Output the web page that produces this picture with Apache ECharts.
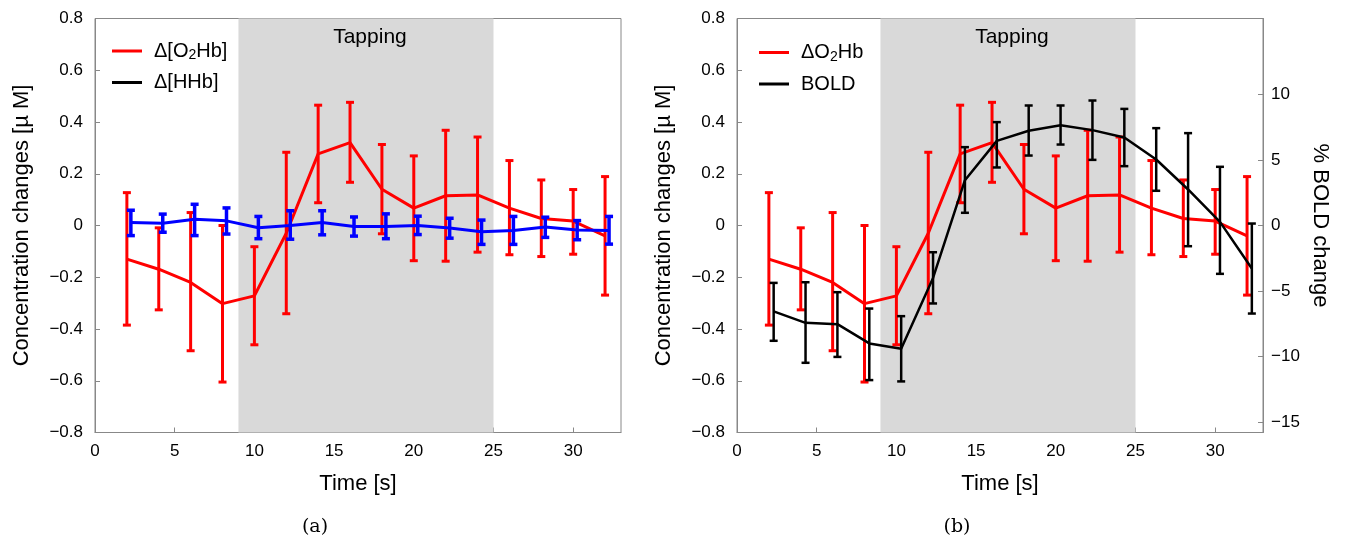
<!DOCTYPE html>
<html><head><meta charset="utf-8">
<script src="https://cdn.jsdelivr.net/npm/echarts@6/dist/echarts.min.js"></script>
<style>html,body{margin:0;padding:0;background:#fff}#c{width:1345px;height:540px}</style>
</head><body><div id="c"></div>
<script>
// ---- data ----
const timeO2 = [2,4,6,8,10,12,14,16,18,20,22,24,26,28,30,32];
const o2hb     = [-0.13,-0.169,-0.22,-0.302,-0.272,-0.03,0.277,0.32,0.14,0.067,0.115,0.118,0.067,0.027,0.017,-0.04];
const o2hbLow  = [-0.385,-0.326,-0.484,-0.605,-0.461,-0.341,0.088,0.167,-0.032,-0.136,-0.138,-0.103,-0.113,-0.12,-0.111,-0.269];
const o2hbHigh = [0.127,-0.009,0.05,0.0,-0.082,0.283,0.465,0.476,0.313,0.269,0.368,0.342,0.251,0.176,0.139,0.189];

const timeHHb = [2.25,4.25,6.25,8.25,10.25,12.25,14.25,16.25,18.25,20.25,22.25,24.25,26.25,28.25,30.25,32.25];
const hhb     = [0.012,0.009,0.024,0.018,-0.009,0.0,0.012,-0.004,-0.004,0.0,-0.01,-0.024,-0.019,-0.006,-0.017,-0.019];
const hhbLow  = [-0.039,-0.026,-0.039,-0.033,-0.051,-0.053,-0.036,-0.041,-0.051,-0.035,-0.049,-0.073,-0.073,-0.046,-0.055,-0.072];
const hhbHigh = [0.059,0.044,0.082,0.068,0.035,0.057,0.057,0.033,0.045,0.036,0.028,0.021,0.035,0.032,0.019,0.035];

const timeBold = [2.3,4.3,6.3,8.3,10.3,12.3,14.3,16.3,18.3,20.3,22.3,24.3,26.3,28.3,30.3,32.3];
const bold     = [-6.56,-7.43,-7.53,-9.0,-9.41,-4.0,3.46,6.46,7.23,7.66,7.28,6.72,5.04,2.75,0.28,-3.28];
const boldLow  = [-8.8,-10.48,-10.03,-11.8,-11.9,-5.95,0.97,4.43,5.34,6.18,5.01,4.53,2.65,-1.58,-3.69,-6.72];
const boldHigh = [-4.38,-4.33,-5.09,-6.34,-6.92,-2.04,5.98,7.89,9.16,9.16,9.54,8.9,7.43,7.05,4.48,0.15];

const xTicks = [0,5,10,15,20,25,30];
const boldTicks = [-15,-10,-5,0,5,10];
const tapping = [9, 25];

// ---- helpers ----
const FONT = '"Liberation Sans", Arial, sans-serif';
const AX = '#888';
const pairs = (xs, ys) => xs.map((x, i) => [x, ys[i]]);
const triples = (xs, lo, hi) => xs.map((x, i) => [x, lo[i], hi[i]]);
const minus = s => String(s).replace('-', '\u2212');

function errRender(color, lw) {
  return function (params, api) {
    const x = api.value(0);
    const p1 = api.coord([x, api.value(1)]);
    const p2 = api.coord([x, api.value(2)]);
    const w = 4;
    const st = { stroke: color, lineWidth: lw };
    return { type: 'group', children: [
      { type: 'line', shape: { x1: p1[0], y1: p1[1], x2: p2[0], y2: p2[1] }, style: st },
      { type: 'line', shape: { x1: p1[0] - w, y1: p1[1], x2: p1[0] + w, y2: p1[1] }, style: st },
      { type: 'line', shape: { x1: p2[0] - w, y1: p2[1], x2: p2[0] + w, y2: p2[1] }, style: st }
    ]};
  };
}

function xAxis(gi) {
  return {
    type: 'value', gridIndex: gi, min: 0, max: 33, interval: 5,
    axisLine: { show: true, onZero: false, lineStyle: { color: AX, width: 1 } },
    axisTick: { show: true, inside: true, length: 5, customValues: xTicks, lineStyle: { color: AX } },
    axisLabel: { customValues: xTicks, margin: 10, color: '#000', fontSize: 17, fontFamily: FONT },
    splitLine: { show: false },
    name: 'Time [s]', nameLocation: 'middle', nameGap: 40,
    nameTextStyle: { color: '#000', fontSize: 22, fontFamily: FONT }
  };
}
function yConc(gi) {
  return {
    type: 'value', gridIndex: gi, min: -0.8, max: 0.8, interval: 0.2,
    axisLine: { show: true, onZero: false, lineStyle: { color: AX, width: 1 } },
    axisTick: { show: true, inside: true, length: 5, lineStyle: { color: AX } },
    axisLabel: { margin: 12, color: '#000', fontSize: 17, fontFamily: FONT,
      formatter: v => minus(Math.round(v * 10) / 10) },
    splitLine: { show: false },
    name: 'Concentration changes [\u00b5 M]', nameLocation: 'middle', nameRotate: 90, nameGap: 62,
    nameTextStyle: { color: '#000', fontSize: 22, fontFamily: FONT }
  };
}

const legendRich = {
  n: { fontSize: 20, lineHeight: 24, fontFamily: FONT, color: '#000' },
  s: { fontSize: 14, lineHeight: 14, padding: [9, 0, 0, 0], fontFamily: FONT, color: '#000' }
};
function legendFmt(name) {
  if (name === '\u0394[O\u2082Hb]') return '{n|\u0394[O}{s|2}{n|Hb]}';
  if (name === '\u0394O\u2082Hb') return '{n|\u0394O}{s|2}{n|Hb}';
  return '{n|' + name + '}';
}
function legend(left, top, data) {
  return {
    left: left, top: top, orient: 'vertical', padding: 0, icon: 'rect',
    itemWidth: 30, itemHeight: 3, itemGap: 7.5, selectedMode: false,
    data: data, formatter: legendFmt,
    textStyle: { fontSize: 20, lineHeight: 24, fontFamily: FONT, color: '#000', padding: [0, 0, 0, 7], rich: legendRich }
  };
}

const tapArea = {
  silent: true,
  itemStyle: { color: '#d9d9d9' },
  label: { show: true, position: 'insideTop', distance: 8, offset: [4, 0], color: '#000', fontSize: 21, fontFamily: FONT },
  data: [[{ name: 'Tapping', xAxis: tapping[0] }, { xAxis: tapping[1] }]]
};

const option = {
  animation: false,
  backgroundColor: '#fff',
  grid: [
    { left: 95, top: 18.5, width: 526, height: 414, show: true, borderColor: AX, borderWidth: 1, backgroundColor: 'transparent' },
    { left: 737, top: 18.5, width: 526, height: 414, show: true, borderColor: AX, borderWidth: 1, backgroundColor: 'transparent' }
  ],
  xAxis: [xAxis(0), xAxis(1)],
  yAxis: [
    yConc(0), yConc(1),
    {
      type: 'value', gridIndex: 1, position: 'right', min: -15.8, max: 15.8,
      axisLine: { show: true, onZero: false, lineStyle: { color: AX, width: 1 } },
      axisTick: { show: true, inside: true, length: 5, customValues: boldTicks, lineStyle: { color: AX } },
      axisLabel: { customValues: boldTicks, margin: 8, color: '#000', fontSize: 17, fontFamily: FONT, formatter: v => minus(v) },
      splitLine: { show: false },
      name: '% BOLD change', nameLocation: 'middle', nameRotate: -90, nameGap: 46,
      nameTextStyle: { color: '#000', fontSize: 22, fontFamily: FONT }
    }
  ],
  legend: [
    legend(112, 39, [{ name: '\u0394[O\u2082Hb]' }, { name: '\u0394[HHb]', itemStyle: { color: '#000' } }]),
    legend(759, 40.5, [{ name: '\u0394O\u2082Hb' }, { name: 'BOLD' }])
  ],
  graphic: [
    { type: 'text', x: 315, y: 527, style: { text: '(a)', font: '19px "DejaVu Serif", serif', fill: '#000', align: 'center', verticalAlign: 'middle' } },
    { type: 'text', x: 957, y: 527, style: { text: '(b)', font: '19px "DejaVu Serif", serif', fill: '#000', align: 'center', verticalAlign: 'middle' } }
  ],
  series: [
    // panel (a)
    { name: '\u0394[O\u2082Hb]', type: 'line', xAxisIndex: 0, yAxisIndex: 0, data: pairs(timeO2, o2hb),
      symbol: 'none', color: '#ff0000', lineStyle: { color: '#ff0000', width: 3 }, markArea: tapArea, z: 3 },
    { type: 'custom', xAxisIndex: 0, yAxisIndex: 0, data: triples(timeO2, o2hbLow, o2hbHigh),
      encode: { x: 0, y: [1, 2] }, renderItem: errRender('#ff0000', 3), z: 3 },
    { name: '\u0394[HHb]', type: 'line', xAxisIndex: 0, yAxisIndex: 0, data: pairs(timeHHb, hhb),
      symbol: 'none', color: '#0000ff', lineStyle: { color: '#0000ff', width: 3 }, z: 4 },
    { type: 'custom', xAxisIndex: 0, yAxisIndex: 0, data: triples(timeHHb, hhbLow, hhbHigh),
      encode: { x: 0, y: [1, 2] }, renderItem: errRender('#0000ff', 3.5), z: 4 },
    // panel (b)
    { name: '\u0394O\u2082Hb', type: 'line', xAxisIndex: 1, yAxisIndex: 1, data: pairs(timeO2, o2hb),
      symbol: 'none', color: '#ff0000', lineStyle: { color: '#ff0000', width: 3 }, markArea: tapArea, z: 3 },
    { type: 'custom', xAxisIndex: 1, yAxisIndex: 1, data: triples(timeO2, o2hbLow, o2hbHigh),
      encode: { x: 0, y: [1, 2] }, renderItem: errRender('#ff0000', 3), z: 3 },
    { name: 'BOLD', type: 'line', xAxisIndex: 1, yAxisIndex: 2, data: pairs(timeBold, bold),
      symbol: 'none', color: '#000000', lineStyle: { color: '#000000', width: 2.5 }, z: 4 },
    { type: 'custom', xAxisIndex: 1, yAxisIndex: 2, data: triples(timeBold, boldLow, boldHigh),
      encode: { x: 0, y: [1, 2] }, renderItem: errRender('#000000', 2.5), z: 4 }
  ]
};

const chart = echarts.init(document.getElementById('c'), null, { renderer: 'canvas' });
chart.setOption(option);
</script>
</body></html>
